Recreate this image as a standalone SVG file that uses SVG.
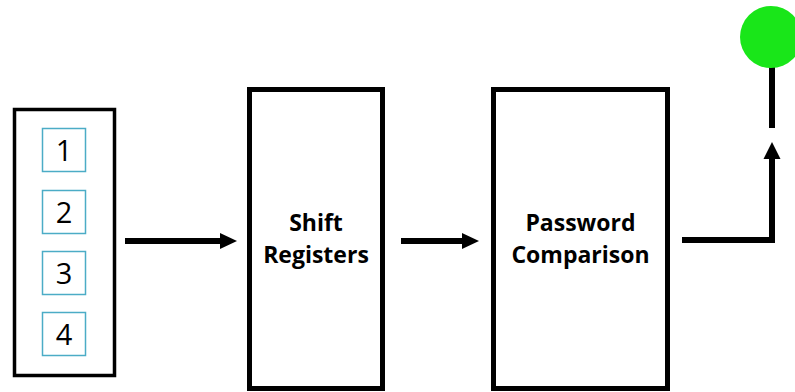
<svg xmlns="http://www.w3.org/2000/svg" width="795" height="392" viewBox="0 0 795 392">
  <defs>
    <style>
      .block { fill: #fff; stroke: #000; stroke-width: 5; }
      .key { fill: #fff; stroke: #4bacc6; stroke-width: 1.5; }
      .digit { font-family: "Open Sans", "Liberation Sans", sans-serif; font-size: 29px; fill: #000; text-anchor: middle; }
      .label { font-family: "Open Sans", "Liberation Sans", sans-serif; font-size: 23px; font-weight: bold; fill: #000; text-anchor: middle; }
      .wire { fill: none; stroke: #000; stroke-width: 6; }
      .head { fill: #000; }
    </style>
  </defs>
  <rect width="795" height="392" fill="#fff"/>

  <!-- keypad with four keys -->
  <g id="keypad">
    <rect x="14.5" y="109.5" width="100" height="266" fill="#fff" stroke="#000" stroke-width="3.5"/>
    <rect class="key" x="42.5" y="128.5" width="43" height="43"/>
    <text class="digit" x="64" y="161">1</text>
    <rect class="key" x="42.5" y="190.5" width="43" height="43"/>
    <text class="digit" x="64" y="223">2</text>
    <rect class="key" x="42.5" y="251.5" width="43" height="43"/>
    <text class="digit" x="64" y="284">3</text>
    <rect class="key" x="42.5" y="312.5" width="43" height="43"/>
    <text class="digit" x="64" y="345">4</text>
  </g>

  <g id="shift-registers">
    <rect class="block" x="249.5" y="89.5" width="133" height="299"/>
    <text class="label" x="316" y="231">Shift</text>
    <text class="label" x="316" y="263">Registers</text>
  </g>

  <g id="password-comparison">
    <rect class="block" x="493.5" y="89.5" width="174" height="299"/>
    <text class="label" x="580.5" y="231">Password</text>
    <text class="label" x="580.5" y="263">Comparison</text>
  </g>

  <!-- green indicator lamp -->
  <g id="lamp">
    <line x1="772" y1="62" x2="772" y2="128" stroke="#000" stroke-width="6"/>
    <circle cx="771" cy="37" r="31" fill="#19e619"/>
  </g>

  <g id="connectors">
    <line class="wire" x1="125" y1="241" x2="222" y2="241"/>
    <polygon class="head" points="220,233 237,241 220,249"/>
    <line class="wire" x1="401" y1="241" x2="464" y2="241"/>
    <polygon class="head" points="462,233 479,241 462,249"/>
    <polyline class="wire" points="682,240 772,240 772,157"/>
    <polygon class="head" points="763.5,159 772,142 780.5,159"/>
  </g>
</svg>
